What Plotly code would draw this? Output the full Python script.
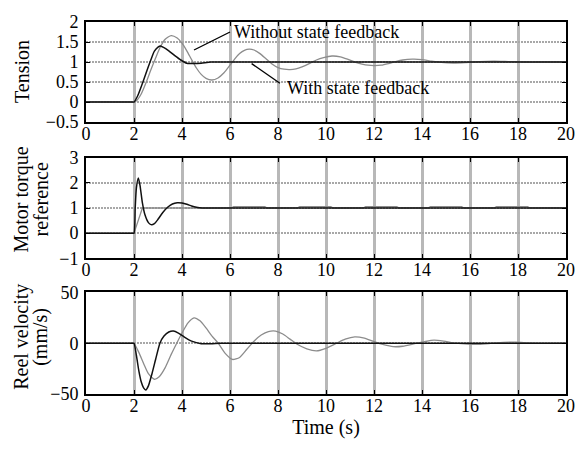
import plotly.graph_objects as go

# ---- Tension ----
t_ten_fb = [0, 1.9, 2.0, 2.15, 2.3, 2.5, 2.7, 2.85, 3.0, 3.1, 3.25, 3.45, 3.7, 3.95, 4.2,
            4.5, 4.8, 5.2, 6.0, 20]
ten_fb = [0, 0, 0, 0.15, 0.38, 0.72, 1.05, 1.27, 1.37, 1.40, 1.36, 1.28, 1.16, 1.05, 0.97,
          0.96, 0.97, 1.0, 1.0, 1.0]

t_ten_open = [0, 1.9, 2.0, 2.1, 2.3, 2.5, 2.7, 2.9, 3.1, 3.3, 3.55, 3.8, 4.0, 4.2, 4.4, 4.6,
              4.8, 5.0, 5.25, 5.5, 5.75, 6.0, 6.2, 6.4, 6.6, 6.8, 7.0, 7.25, 7.5, 7.75, 8.0,
              8.25, 8.5, 8.75, 9.0, 9.3, 9.6, 9.9, 10.25, 10.6, 10.9, 11.2, 11.5, 11.75, 12.0,
              12.3, 12.6, 12.9, 13.2, 13.6, 14.0, 14.4, 14.8, 15.3, 15.8, 16.4, 17.0, 17.6,
              18.2, 19.0, 20]
ten_open = [0, 0, 0, 0.03, 0.2, 0.48, 0.8, 1.1, 1.38, 1.57, 1.66, 1.6, 1.47, 1.28, 1.06, 0.85,
            0.69, 0.59, 0.55, 0.6, 0.73, 0.92, 1.08, 1.21, 1.29, 1.32, 1.3, 1.21, 1.08, 0.95,
            0.86, 0.82, 0.81, 0.83, 0.88, 0.96, 1.05, 1.11, 1.15, 1.13, 1.07, 1.0, 0.95, 0.92,
            0.91, 0.92, 0.96, 1.01, 1.05, 1.07, 1.06, 1.02, 0.99, 0.975, 0.985, 1.01, 1.02,
            1.01, 1.0, 1.0, 1.0]

# ---- Motor torque reference ----
t_trq_fb = [0, 1.95, 2.0, 2.05, 2.1, 2.18, 2.25, 2.35, 2.45, 2.6, 2.71, 2.85, 3.0, 3.2, 3.4,
            3.6, 3.8, 4.0, 4.2, 4.4, 4.6, 4.85, 5.3, 20]
trq_fb = [0, 0, 0, 1.0, 1.8, 2.19, 1.9, 1.2, 0.75, 0.42, 0.34, 0.38, 0.55, 0.82, 1.03,
          1.16, 1.21, 1.2, 1.15, 1.08, 1.03, 1.0, 1.0, 1.0]

t_trq_open = [0, 2.0, 2.35, 6.05, 6.15, 7.45, 7.55, 8.8, 8.9, 10.2, 10.3, 11.55, 11.65, 12.95,
              13.05, 14.25, 14.35, 15.65, 15.75, 17.0, 17.1, 18.4, 18.5, 20]
trq_open = [0, 0, 1.0, 1.0, 1.05, 1.05, 1.0, 1.0, 1.05, 1.05, 1.0, 1.0, 1.05, 1.05,
            1.0, 1.0, 1.05, 1.05, 1.0, 1.0, 1.05, 1.05, 1.0, 1.0]

# ---- Reel velocity (mm/s) ----
t_vel_fb = [0, 1.95, 2.0, 2.1, 2.2, 2.3, 2.4, 2.49, 2.6, 2.75, 2.9, 3.08, 3.25, 3.45, 3.64,
            3.85, 4.1, 4.4, 4.8, 5.2, 5.6, 6.5, 20]
vel_fb = [0, 0, 0, -12, -27, -38, -44, -46, -42, -30, -16, 0, 7, 11, 12,
          10, 6, 2, -0.5, -0.5, 0, 0, 0]

t_vel_open = [0, 1.95, 2.0, 2.2, 2.4, 2.6, 2.85, 3.05, 3.3, 3.55, 3.78, 4.0, 4.25, 4.5, 4.75,
              5.0, 5.25, 5.51, 5.8, 6.1, 6.4, 6.7, 7.0, 7.3, 7.6, 7.9, 8.2, 8.5, 8.8, 9.2,
              9.6, 10.0, 10.4, 10.8, 11.2, 11.6, 12.0, 12.4, 12.8, 13.2, 13.7, 14.1, 14.5,
              14.9, 15.4, 15.9, 16.3, 16.8, 17.4, 17.9, 18.5, 19.2, 20]
vel_open = [0, 0, 0, -9, -20, -30, -35.5, -33, -24, -11, 0, 10, 20, 25, 22,
            15, 7, 0, -10, -16, -14, -6, 2, 8, 11.5, 12, 9, 4, -1, -5.5,
            -7.5, -5, -0.5, 4, 6.3, 5, 1.5, -1.5, -3.4, -3, -0.5, 1.5, 3,
            2, 0, -1, -1.2, -0.3, 0.8, 1, 0.3, 0, 0]

x_ticks = list(range(0, 21, 2))
ten_ticks = [-0.5, 0, 0.5, 1, 1.5, 2]
ten_labels = ["\u22120.5", "0", "0.5", "1", "1.5", "2"]
trq_ticks = [-1, 0, 1, 2, 3]
trq_labels = ["\u22121", "0", "1", "2", "3"]
vel_ticks = [-50, 0, 50]
vel_labels = ["\u221250", "0", "50"]

FONT = "Liberation Serif, Times New Roman, serif"
BLACK = "#111111"
GRAY = "#8c8c8c"

fig = go.Figure()

def add_pair(t_open, v_open, t_fb, v_fb, xa, ya, open_shape="spline"):
    fig.add_trace(go.Scatter(x=t_open, y=v_open, mode="lines", xaxis=xa, yaxis=ya,
                             line=dict(color=GRAY, width=1.3, shape=open_shape,
                                       smoothing=0.6),
                             showlegend=False, hoverinfo="skip"))
    fig.add_trace(go.Scatter(x=t_fb, y=v_fb, mode="lines", xaxis=xa, yaxis=ya,
                             line=dict(color=BLACK, width=1.5, shape="spline",
                                       smoothing=0.6),
                             showlegend=False, hoverinfo="skip"))

add_pair(t_ten_open, ten_open, t_ten_fb, ten_fb, "x", "y")
add_pair(t_trq_open, trq_open, t_trq_fb, trq_fb, "x2", "y2", open_shape="linear")
add_pair(t_vel_open, vel_open, t_vel_fb, vel_fb, "x3", "y3")

xbase = dict(range=[0, 20], tickvals=x_ticks, ticks="inside", ticklen=4, tickwidth=1,
             tickcolor="black", showline=True, linecolor="black", linewidth=2,
             mirror="ticks", showgrid=True, gridcolor="#b8b8b8", gridwidth=3,
             zeroline=False, tickfont=dict(family=FONT, size=18, color="black"),
             ticklabelstandoff=-6)
ybase = dict(ticks="inside", ticklen=4, tickwidth=1, tickcolor="black", showline=True,
             linecolor="black", linewidth=2, mirror="ticks", showgrid=True,
             gridcolor="#a8a8a8", gridwidth=2, griddash="2px,1px", zeroline=False,
             tickfont=dict(family=FONT, size=18, color="black"), ticklabelstandoff=2)

dom1 = [0.7311, 1.0]
dom2 = [0.3646, 0.6354]
dom3 = [0.0, 0.2731]

fig.update_layout(
    width=587, height=453,
    margin=dict(l=86, r=21, t=15, b=59),
    paper_bgcolor="white", plot_bgcolor="white",
    font=dict(family=FONT, size=18, color="black"),
    xaxis=dict(xbase, anchor="y"),
    yaxis=dict(ybase, domain=dom1, range=[-0.5, 2], tickvals=ten_ticks,
               ticktext=ten_labels, anchor="x"),
    xaxis2=dict(xbase, anchor="y2"),
    yaxis2=dict(ybase, domain=dom2, range=[-1, 3], tickvals=trq_ticks,
                ticktext=trq_labels, anchor="x2"),
    xaxis3=dict(xbase, anchor="y3",
                title=dict(text="Time (s)", font=dict(family=FONT, size=20), standoff=2)),
    yaxis3=dict(ybase, domain=dom3, range=[-50, 50], tickvals=vel_ticks,
                ticktext=vel_labels, anchor="x3"),
)

# rotated axis titles
titles = [
    ("Tension", 22, 66),
    ("Motor torque", 22, 196),
    ("reference", 41, 196),
    ("Reel velocity", 22, 336),
    ("(mm/s)", 41, 336),
]
for txt, px, py in titles:
    fig.add_annotation(text=txt, textangle=-90, xref="paper", yref="paper",
                       x=(px - 86) / 480, y=(394.3 - py) / 379.3,
                       xanchor="center", yanchor="middle", showarrow=False,
                       font=dict(family=FONT, size=20, color="black"))

# callouts in the tension panel
fig.add_shape(type="line", xref="x", yref="y", x0=4.5, y0=1.30, x1=6.0, y1=1.75,
              line=dict(color="black", width=1.3))
fig.add_shape(type="line", xref="x", yref="y", x0=6.9, y0=0.96, x1=8.08, y1=0.47,
              line=dict(color="black", width=1.3))
fig.add_annotation(text="Without state feedback", xref="x", yref="y", x=6.1, y=1.75,
                   xanchor="left", yanchor="middle", showarrow=False,
                   font=dict(family=FONT, size=18, color="black"))
fig.add_annotation(text="With state feedback", xref="x", yref="y", x=8.3, y=0.36,
                   xanchor="left", yanchor="middle", showarrow=False,
                   font=dict(family=FONT, size=18, color="black"))

fig.write_html("out.html")
